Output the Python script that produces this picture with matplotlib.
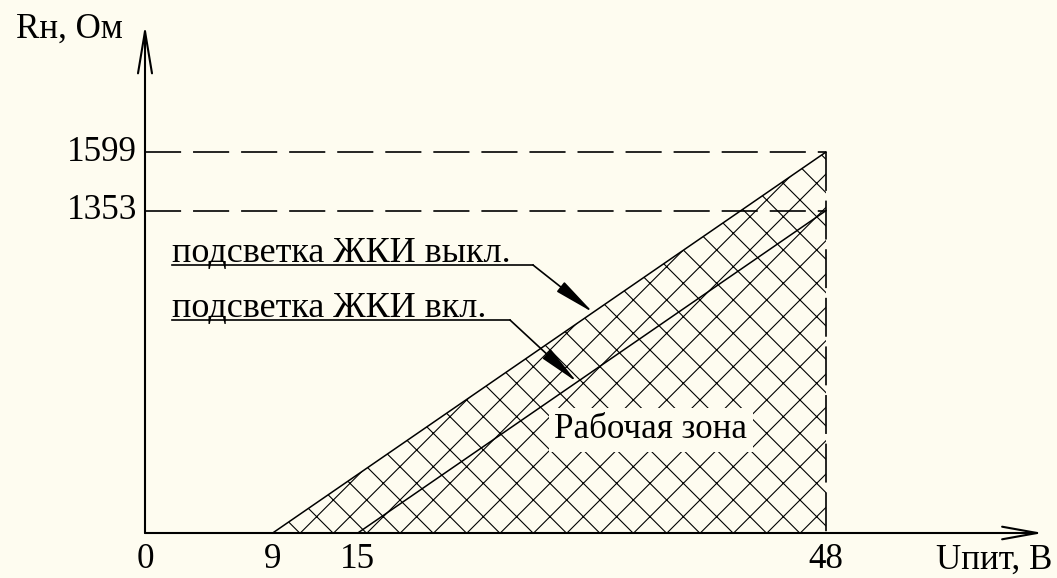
import matplotlib
matplotlib.use('Agg')
import numpy as np
from matplotlib import pyplot as plt

# данные графика
u_off = [9, 48]          # подсветка ЖКИ выкл.
r_off = [0, 1599]
u_on = [15, 48]          # подсветка ЖКИ вкл.
r_on = [0, 1353]
x_ticks = [0, 9, 15, 48]
y_ticks = [1599, 1353]

bg = '#FEFCF0'
plt.rcParams['font.family'] = ['Liberation Serif', 'DejaVu Serif']
plt.rcParams['font.size'] = 12.6
plt.rcParams['hatch.linewidth'] = 0.4
plt.rcParams['lines.scale_dashes'] = False

fig = plt.figure(figsize=(5.285, 2.89), dpi=200, facecolor=bg)
ax = fig.add_axes([0, 0, 1, 1])
ax.set_facecolor(bg)
ax.axis('off')
# пиксели -> данные: 0 В на 145 px, 48 В на 826 px; 0 Ом на 533 px, 1599 Ом на 152 px
sx = (826 - 145) / 48.0
sy = (533 - 152) / 1599.0
ax.set_xlim(-145 / sx, (1057 - 145) / sx)
ax.set_ylim(-45 / sy, 533 / sy)

x_end = (1043 - 145) / sx
y_end = (533 - 25) / sy

# оси со стрелками
ax.annotate('', xy=(x_end, 0), xytext=(0, 0),
            arrowprops=dict(arrowstyle='->,head_length=1.0,head_width=0.18', lw=0.75, color='black',
                            shrinkA=0, shrinkB=0))
ax.annotate('', xy=(0, y_end), xytext=(0, 0),
            arrowprops=dict(arrowstyle='->,head_length=1.2,head_width=0.2', lw=0.75, color='black',
                            shrinkA=0, shrinkB=0))

# рабочая зона
ax.fill([u_off[0], u_off[1], u_off[1]], [r_off[0], r_off[1], 0], facecolor='none',
        edgecolor='black', hatch='xx', linewidth=0)

ax.plot(u_off, r_off, color='black', lw=0.55)
ax.plot(u_on, r_on, color='black', lw=0.55)

# пунктирные линии
for v in y_ticks:
    ax.plot([0, u_off[1]], [v, v], color='black', lw=0.6, dashes=(13, 4.3))
ax.plot([u_off[1], u_off[1]], [r_off[1], 0], color='black', lw=0.6, dashes=(14, 3.5))

# подписи делений
for v in y_ticks:
    ax.annotate(str(v), xy=(0, v), xytext=(-8, 0), textcoords='offset pixels',
                ha='right', va='center')
for v in x_ticks:
    ax.annotate(str(v), xy=(v, 0), xytext=(0, -27), textcoords='offset pixels',
                ha='center', va='center')

ax.annotate('Rн, Ом', xy=(0, y_end), xytext=(-22, -4), textcoords='offset pixels',
            ha='right', va='center')
ax.annotate('Uпит, В', xy=(x_end, 0), xytext=(9, -27), textcoords='offset pixels',
            ha='right', va='center')

# выноски
def leader(text, u, r, knee_x, line_y, tip_u):
    x0 = (172 - 145) / sx
    kx = (knee_x - 145) / sx
    ky = (533 - line_y) / sy
    tip_r = r[0] + (r[1] - r[0]) * (tip_u - u[0]) / (u[1] - u[0])
    ax.text(x0, ky + 3 / sy, text, ha='left', va='baseline', fontsize=13.0)
    ax.plot([x0, kx], [ky, ky], color='black', lw=0.6)
    ax.annotate('', xy=(tip_u, tip_r), xytext=(kx, ky),
                arrowprops=dict(arrowstyle='-|>,head_length=1.0,head_width=0.15', lw=0.6,
                                color='black', shrinkA=0, shrinkB=0))

leader('подсветка ЖКИ выкл.', u_off, r_off, 533, 265, (593 - 145) / sx)
leader('подсветка ЖКИ вкл.', u_on, r_on, 510, 320, (577 - 145) / sx)

ax.text((651 - 145) / sx, (533 - 430) / sy, 'Рабочая зона', ha='center', va='center',
        bbox=dict(facecolor=bg, edgecolor='none', pad=2))

fig.savefig('out.png', dpi=200, facecolor=bg)
